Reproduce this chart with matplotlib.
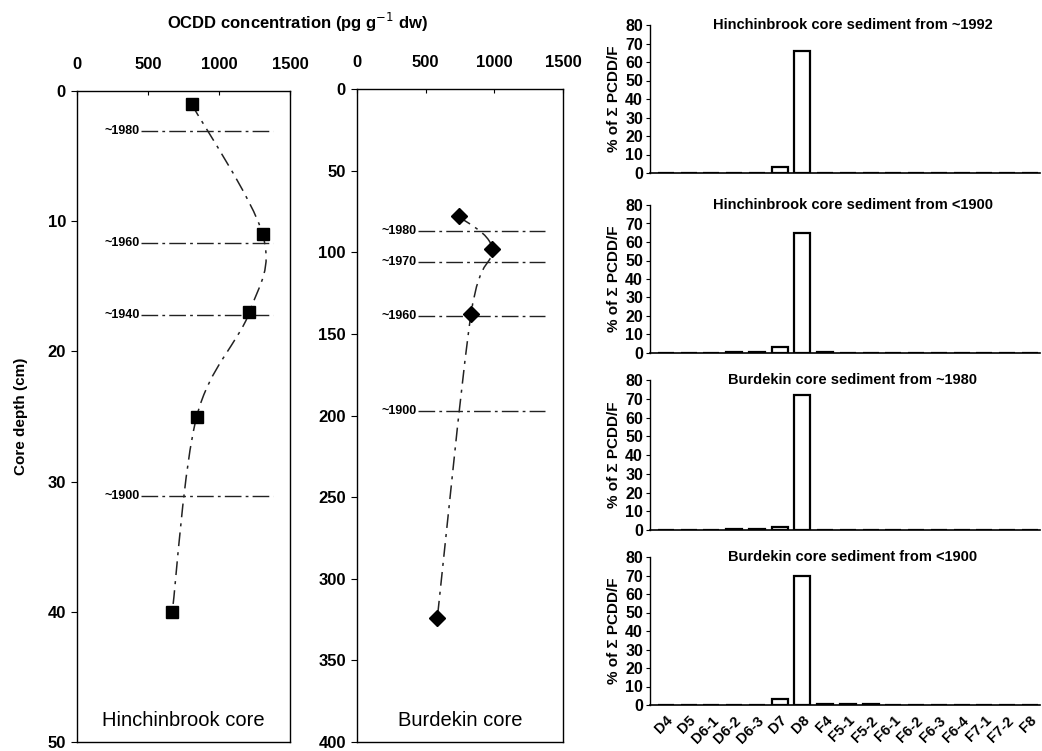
import numpy as np
import matplotlib
matplotlib.use("Agg")
import matplotlib.pyplot as plt
from matplotlib.path import Path
from matplotlib.patches import PathPatch

plt.rcParams['font.family'] = ['Liberation Sans', 'DejaVu Sans']

# ---------------- data ----------------
hin_ocdd = [807, 1307, 1214, 843, 671]
hin_depth = [1, 11, 17, 25, 40]
hin_dates = ['~1980', '~1960', '~1940', '~1900']
hin_date_depth = [3.1, 11.7, 17.2, 31.1]

bur_ocdd = [740, 985, 830, 585]
bur_depth = [78, 98, 138, 324]
bur_dates = ['~1980', '~1970', '~1960', '~1900']
bur_date_depth = [87, 106, 139, 197.5]

congeners = ['D4', 'D5', 'D6-1', 'D6-2', 'D6-3', 'D7', 'D8', 'F4', 'F5-1', 'F5-2',
             'F6-1', 'F6-2', 'F6-3', 'F6-4', 'F7-1', 'F7-2', 'F8']
hin_1992 = [0, 0, 0, 0, 0, 3, 66, 0.2, 0, 0, 0, 0, 0, 0, 0, 0, 0]
hin_1900 = [0, 0, 0, 0.3, 0.6, 3.5, 65, 0.5, 0, 0, 0, 0, 0, 0, 0, 0, 0]
bur_1980 = [0, 0, 0, 0.3, 0.5, 1.5, 72, 0, 0, 0, 0, 0, 0, 0, 0, 0, 0]
bur_1900 = [0, 0, 0, 0, 0, 3, 69.5, 0.5, 0.4, 0.3, 0, 0, 0, 0, 0, 0, 0]
bar_titles = ['Hinchinbrook core sediment from ~1992',
              'Hinchinbrook core sediment from <1900',
              'Burdekin core sediment from ~1980',
              'Burdekin core sediment from <1900']

W, H = 1042, 751
fig = plt.figure(figsize=(W / 100, H / 100), dpi=100)


def frac(x0, y0, x1, y1):
    return [x0 / W, 1 - y1 / H, (x1 - x0) / W, (y1 - y0) / H]


def smooth_curve(ax, xs, ys, **kw):
    pts = np.column_stack([xs, ys]).astype(float)
    verts = [pts[0]]
    codes = [Path.MOVETO]
    n = len(pts)
    for i in range(n - 1):
        p0 = pts[i - 1] if i > 0 else pts[i]
        p1 = pts[i]
        p2 = pts[i + 1]
        p3 = pts[i + 2] if i + 2 < n else pts[i + 1]
        c1 = p1 + (p2 - p0) / 6.0
        c2 = p2 - (p3 - p1) / 6.0
        verts += [c1, c2, p2]
        codes += [Path.CURVE4] * 3
    ax.add_patch(PathPatch(Path(verts, codes), fill=False, **kw))


def core_axes(rect, ymax, yticks, xs, ys, marker, msize, dates, ddepth,
              line_x0, line_x1, label_x, name):
    ax = fig.add_axes(rect)
    ax.set_xlim(0, 1500)
    ax.set_ylim(ymax, 0)
    ax.xaxis.tick_top()
    ax.set_xticks([0, 500, 1000, 1500])
    ax.set_yticks(yticks)
    ax.tick_params(axis='x', direction='in', length=3, pad=14, labelsize=12)
    ax.tick_params(axis='y', direction='out', length=4, pad=4, labelsize=12)
    for lab in ax.get_xticklabels() + ax.get_yticklabels():
        lab.set_fontweight('bold')
    for s in ax.spines.values():
        s.set_linewidth(1.0)
    smooth_curve(ax, xs, ys, edgecolor='#222222', linewidth=1.1,
                 linestyle=(0, (9, 4, 2, 4)))
    ax.plot(xs, ys, linestyle='none', marker=marker, markersize=msize,
            color='black', zorder=5)
    for lab, d in zip(dates, ddepth):
        ax.plot([line_x0, line_x1], [d, d], color='#222222', linewidth=1.0,
                linestyle=(0, (12, 3, 2, 3)))
        ax.text(label_x, d, lab, ha='right', va='center', fontsize=9,
                fontweight='bold')
    ax.text(0.5, 0.018, name, transform=ax.transAxes, ha='center', va='bottom',
            fontsize=14.5)
    return ax


ax1 = core_axes(frac(77, 91, 290, 742), 50, [0, 10, 20, 30, 40, 50],
                hin_ocdd, hin_depth, 's', 9, hin_dates, hin_date_depth,
                450, 1380, 440, 'Hinchinbrook core')
ax1.set_ylabel('Core depth (cm)', fontsize=11, fontweight='bold', labelpad=14)

ax2 = core_axes(frac(357, 89, 563, 742), 400, list(range(0, 401, 50)),
                bur_ocdd, bur_depth, 'D', 8, bur_dates, bur_date_depth,
                445, 1370, 435, 'Burdekin core')

fig.text(298 / W, 1 - 22 / H, 'OCDD concentration (pg g$^{-1}$ dw)',
         ha='center', va='center', fontsize=12, fontweight='bold')

# ---------------- bar panels ----------------
panel_px = [(25, 173), (205, 353), (380, 530), (557, 705)]
series = [hin_1992, hin_1900, bur_1980, bur_1900]
x = np.arange(len(congeners))
for k, ((ytop, ybot), vals, title) in enumerate(zip(panel_px, series, bar_titles)):
    ax = fig.add_axes(frac(650, ytop, 1040, ybot))
    ax.bar(x, vals, width=0.7, color='white', edgecolor='black', linewidth=1.6,
           zorder=3)
    ax.set_xlim(-0.7, 16.45)
    ax.set_ylim(0, 80)
    ax.set_yticks(range(0, 81, 10))
    ax.spines['top'].set_visible(False)
    ax.spines['right'].set_visible(False)
    ax.spines['left'].set_linewidth(1.0)
    ax.spines['bottom'].set_linewidth(1.2)
    ax.tick_params(axis='y', direction='out', length=3, pad=2, labelsize=11.5)
    for lab in ax.get_yticklabels():
        lab.set_fontweight('bold')
    ax.set_ylabel('% of Σ PCDD/F', fontsize=11, fontweight='bold', labelpad=3)
    ax.text(0.52, 80, title, transform=ax.get_yaxis_transform(),
            ha='center', va='center', fontsize=10.5, fontweight='bold')
    ax.set_xticks(x)
    if k == 3:
        ax.set_xticklabels(congeners, rotation=45, ha='right',
                           rotation_mode='anchor', fontsize=10.5, fontweight='bold')
        ax.tick_params(axis='x', length=0, pad=6)
    else:
        ax.set_xticklabels([])
        ax.tick_params(axis='x', length=0)

fig.savefig('out.png', dpi=100)
